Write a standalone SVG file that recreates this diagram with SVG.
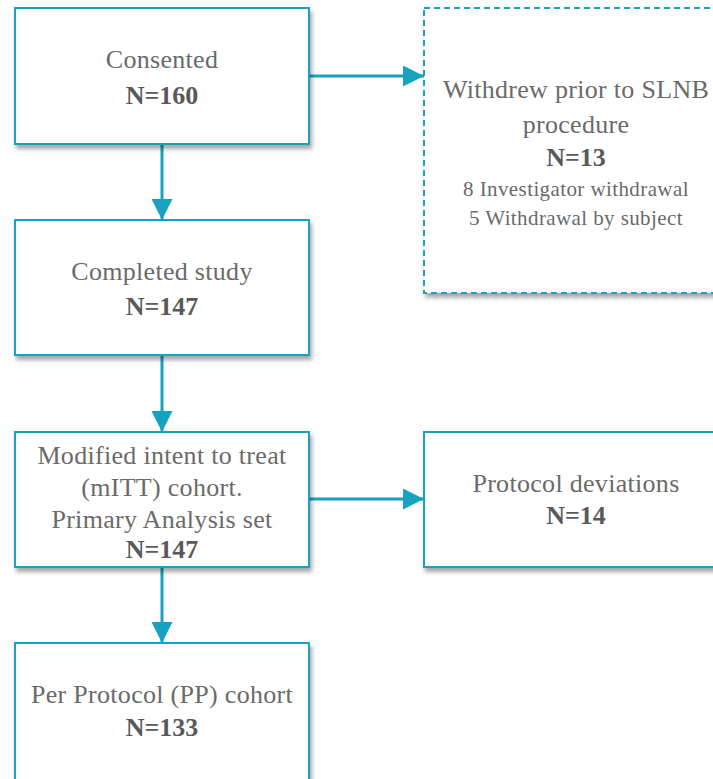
<svg xmlns="http://www.w3.org/2000/svg" width="713" height="779" viewBox="0 0 713 779">
<defs>
<filter id="sh" x="-10%" y="-10%" width="130%" height="130%">
<feDropShadow dx="2" dy="4" stdDeviation="2" flood-color="#000" flood-opacity="0.35"/>
</filter>
<marker id="ah" viewBox="0 0 10 10" refX="10" refY="5" markerWidth="7" markerHeight="7" markerUnits="strokeWidth" orient="auto">
<path d="M0,0 L10,5 L0,10 Z" fill="#17a2c0"/>
</marker>
<style>
.box{fill:#fff;stroke:#17a2c0;stroke-width:2;filter:url(#sh)}
.dash{stroke-dasharray:6 4}
.t{font-family:"Liberation Serif",serif;font-size:26px;fill:#6a6a6a;text-anchor:middle;letter-spacing:0.3px}
.n{font-family:"Liberation Serif",serif;font-size:26px;font-weight:bold;fill:#595959;text-anchor:middle}
.s{font-family:"Liberation Serif",serif;font-size:21px;fill:#6a6a6a;text-anchor:middle;letter-spacing:0.4px}
.c{stroke:#17a2c0;stroke-width:3;fill:none}
</style>
</defs>
<g id="connectors">
<line class="c" x1="162" y1="145" x2="162" y2="220" marker-end="url(#ah)"/>
<line class="c" x1="162" y1="356" x2="162" y2="432" marker-end="url(#ah)"/>
<line class="c" x1="162" y1="568" x2="162" y2="643" marker-end="url(#ah)"/>
<line class="c" x1="310" y1="76" x2="424" y2="76" marker-end="url(#ah)"/>
<line class="c" x1="310" y1="499" x2="424" y2="499" marker-end="url(#ah)"/>
</g>
<g id="consented">
<rect class="box" x="15" y="8" width="294" height="136"/>
<text class="t" x="162" y="68">Consented</text>
<text class="n" x="162" y="104">N=160</text>
</g>
<g id="withdrew">
<rect class="box dash" x="424" y="8" width="304" height="285"/>
<text class="t" x="576" y="98">Withdrew prior to SLNB</text>
<text class="t" x="576" y="133">procedure</text>
<text class="n" x="576" y="166">N=13</text>
<text class="s" x="576" y="196">8 Investigator withdrawal</text>
<text class="s" x="576" y="225">5 Withdrawal by subject</text>
</g>
<g id="completed">
<rect class="box" x="15" y="220" width="294" height="135"/>
<text class="t" x="162" y="280">Completed study</text>
<text class="n" x="162" y="315">N=147</text>
</g>
<g id="mitt">
<rect class="box" x="15" y="432" width="294" height="135"/>
<text class="t" x="162" y="464">Modified intent to treat</text>
<text class="t" x="162" y="496">(mITT) cohort.</text>
<text class="t" x="162" y="528">Primary Analysis set</text>
<text class="n" x="162" y="558">N=147</text>
</g>
<g id="deviations">
<rect class="box" x="424" y="432" width="304" height="135"/>
<text class="t" x="576" y="492">Protocol deviations</text>
<text class="n" x="576" y="524">N=14</text>
</g>
<g id="pp">
<rect class="box" x="15" y="643" width="294" height="150"/>
<text class="t" x="162" y="703">Per Protocol (PP) cohort</text>
<text class="n" x="162" y="736">N=133</text>
</g>
</svg>
